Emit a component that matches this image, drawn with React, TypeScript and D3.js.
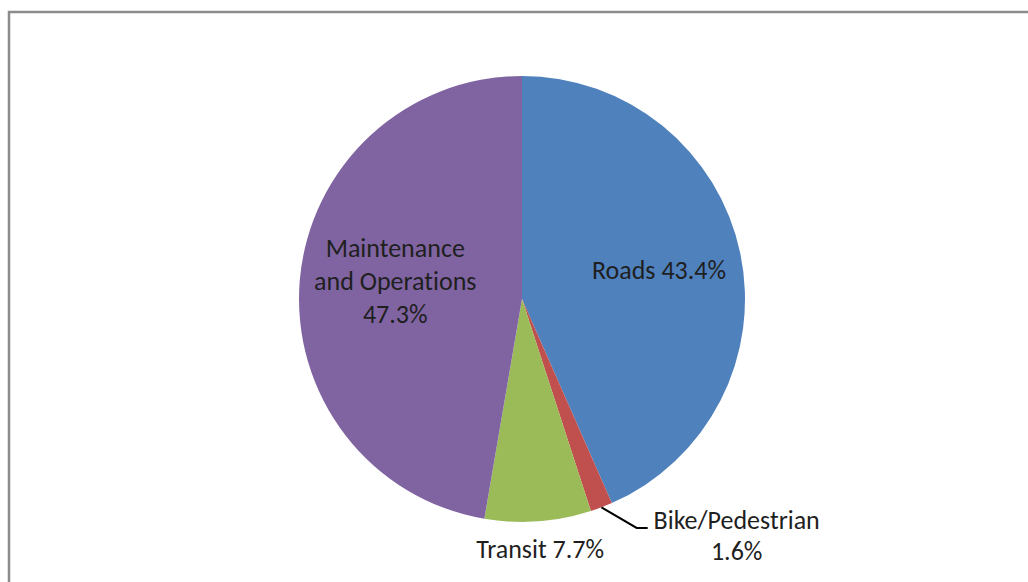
import React from "react";
import * as d3 from "d3";

const categories = ["Roads", "Bike/Pedestrian", "Transit", "Maintenance and Operations"];
const shares = [43.4, 1.6, 7.7, 47.3];
const colors = ["#4F81BD", "#C0504D", "#9BBB59", "#8064A2"];

const W = 1028, H = 582;
const cx = 522, cy = 299, radius = 223;

export default function App() {
  const pie = d3.pie<number>().sort(null).value((d) => d);
  const arcs = pie(shares);
  const arc = d3.arc<d3.PieArcDatum<number>>().innerRadius(0).outerRadius(radius);

  // label anchors, by angle and distance from the centre
  const at = (a: number, r: number) => [cx + r * Math.sin(a), cy - r * Math.cos(a)];
  const mid = (d) => (d.startAngle + d.endAngle) / 2;

  const roadsPos = at(mid(arcs[0]), 140);
  const maintPos = at(mid(arcs[3]) + 0.056, 128);
  const transitPos = at(mid(arcs[2]), 251);
  const bikeEdge = at(mid(arcs[1]), radius);
  const bikeElbow = at(mid(arcs[1]) - 0.1, 256);
  const bikeEnd = [bikeElbow[0] + 11, bikeElbow[1]];
  const bikeText = [bikeEnd[0] + 89, bikeEnd[1]];

  const font = "Carlito, 'Open Sans', 'Noto Sans', sans-serif";
  const fs = 26;

  return (
    <svg width={W} height={H} style={{ position: "absolute", left: 0, top: 0 }}>
      <rect x={0} y={0} width={W} height={H} fill="#fff" />
      <path d={`M9,${H + 5} V12 H${W + 5}`} fill="none" stroke="#8c8c8c" strokeWidth={2.5} />
      <g transform={`translate(${cx},${cy})`}>
        {arcs.map((d, i) => (
          <path key={categories[i]} d={arc(d)} fill={colors[i]} />
        ))}
      </g>
      <g fontFamily={font} fontSize={fs} fill="#1f1f1f" textAnchor="middle"
         style={{ fontVariantLigatures: "none", fontFeatureSettings: "'liga' 0" }}>
        <text x={roadsPos[0]} y={roadsPos[1] + 9}>{`Roads ${shares[0]}%`}</text>
        <text x={maintPos[0]} y={maintPos[1] + 9}>
          <tspan x={maintPos[0]} dy={-33}>Maintenance</tspan>
          <tspan x={maintPos[0]} dy={33}>and Operations</tspan>
          <tspan x={maintPos[0]} dy={33}>{`${shares[3]}%`}</tspan>
        </text>
        <text x={transitPos[0]} y={transitPos[1] + 9}>{`${categories[2]} ${shares[2]}%`}</text>
        <text x={bikeText[0]} y={bikeText[1] + 1}>
          <tspan x={bikeText[0]}>{categories[1]}</tspan>
          <tspan x={bikeText[0]} dy={31}>{`${shares[1]}%`}</tspan>
        </text>
      </g>
      <polyline
        points={`${bikeEdge[0]},${bikeEdge[1]} ${bikeElbow[0]},${bikeElbow[1]} ${bikeEnd[0]},${bikeEnd[1]}`}
        fill="none"
        stroke="#000"
        strokeWidth={2}
      />
    </svg>
  );
}
